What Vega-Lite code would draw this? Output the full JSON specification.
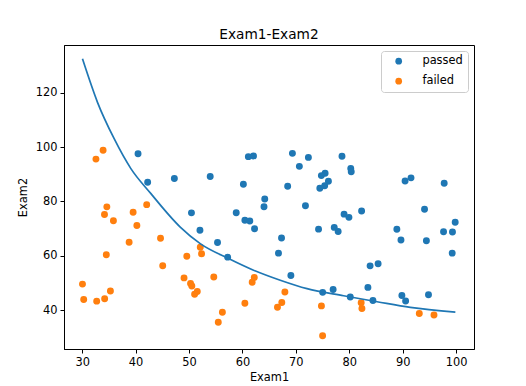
{
  "$schema": "https://vega.github.io/schema/vega-lite/v6.json",
  "width": 410,
  "height": 304,
  "autosize": {"type": "none"},
  "padding": {"left": 64, "top": 45, "right": 52, "bottom": 37},
  "background": "white",
  "title": {"text": "Exam1-Exam2", "font": "DejaVu Sans", "fontSize": 13.7, "fontWeight": "normal", "color": "black", "offset": 3},
  "config": {
    "view": {"stroke": "black", "strokeWidth": 1},
    "axis": {
      "grid": false,
      "domainColor": "black",
      "tickColor": "black",
      "tickSize": 4,
      "labelFont": "DejaVu Sans",
      "labelFontSize": 11.4,
      "labelColor": "black",
      "labelPadding": 3,
      "titleFont": "DejaVu Sans",
      "titleFontSize": 11.4,
      "titleFontWeight": "normal",
      "titleColor": "black"
    },
    "legend": {
      "labelFont": "DejaVu Sans",
      "labelFontSize": 11.4,
      "labelColor": "black"
    }
  },
  "datasets": {
    "pts": [
      {"x1": 34.62, "x2": 78.02, "result": "failed"},
      {"x1": 30.29, "x2": 43.89, "result": "failed"},
      {"x1": 35.85, "x2": 72.90, "result": "failed"},
      {"x1": 60.18, "x2": 86.31, "result": "passed"},
      {"x1": 79.03, "x2": 75.34, "result": "passed"},
      {"x1": 45.08, "x2": 56.32, "result": "failed"},
      {"x1": 61.11, "x2": 96.51, "result": "passed"},
      {"x1": 75.02, "x2": 46.55, "result": "passed"},
      {"x1": 76.10, "x2": 87.42, "result": "passed"},
      {"x1": 84.43, "x2": 43.53, "result": "passed"},
      {"x1": 95.86, "x2": 38.23, "result": "failed"},
      {"x1": 75.01, "x2": 30.60, "result": "failed"},
      {"x1": 82.31, "x2": 76.48, "result": "passed"},
      {"x1": 69.36, "x2": 97.72, "result": "passed"},
      {"x1": 39.54, "x2": 76.04, "result": "failed"},
      {"x1": 53.97, "x2": 89.21, "result": "passed"},
      {"x1": 69.07, "x2": 52.74, "result": "passed"},
      {"x1": 67.95, "x2": 46.68, "result": "failed"},
      {"x1": 70.66, "x2": 92.93, "result": "passed"},
      {"x1": 76.98, "x2": 47.58, "result": "passed"},
      {"x1": 67.37, "x2": 42.84, "result": "failed"},
      {"x1": 89.68, "x2": 65.80, "result": "passed"},
      {"x1": 50.53, "x2": 48.86, "result": "failed"},
      {"x1": 34.21, "x2": 44.21, "result": "failed"},
      {"x1": 77.92, "x2": 68.97, "result": "passed"},
      {"x1": 62.27, "x2": 69.95, "result": "passed"},
      {"x1": 80.19, "x2": 44.82, "result": "passed"},
      {"x1": 93.11, "x2": 38.80, "result": "failed"},
      {"x1": 61.83, "x2": 50.26, "result": "failed"},
      {"x1": 38.79, "x2": 65.00, "result": "failed"},
      {"x1": 61.38, "x2": 72.81, "result": "passed"},
      {"x1": 85.40, "x2": 57.05, "result": "passed"},
      {"x1": 52.11, "x2": 63.13, "result": "failed"},
      {"x1": 52.05, "x2": 69.43, "result": "passed"},
      {"x1": 40.24, "x2": 71.17, "result": "failed"},
      {"x1": 54.64, "x2": 52.21, "result": "failed"},
      {"x1": 33.92, "x2": 98.87, "result": "failed"},
      {"x1": 64.18, "x2": 80.91, "result": "passed"},
      {"x1": 74.79, "x2": 41.57, "result": "failed"},
      {"x1": 34.18, "x2": 75.24, "result": "failed"},
      {"x1": 83.90, "x2": 56.31, "result": "passed"},
      {"x1": 51.55, "x2": 46.86, "result": "failed"},
      {"x1": 94.44, "x2": 65.57, "result": "passed"},
      {"x1": 82.37, "x2": 40.62, "result": "failed"},
      {"x1": 51.05, "x2": 45.82, "result": "failed"},
      {"x1": 62.22, "x2": 52.06, "result": "failed"},
      {"x1": 77.19, "x2": 70.46, "result": "passed"},
      {"x1": 97.77, "x2": 86.73, "result": "passed"},
      {"x1": 62.07, "x2": 96.77, "result": "passed"},
      {"x1": 91.56, "x2": 88.70, "result": "passed"},
      {"x1": 79.94, "x2": 74.16, "result": "passed"},
      {"x1": 99.27, "x2": 61.00, "result": "passed"},
      {"x1": 90.55, "x2": 43.39, "result": "passed"},
      {"x1": 34.52, "x2": 60.40, "result": "failed"},
      {"x1": 50.29, "x2": 49.80, "result": "failed"},
      {"x1": 49.59, "x2": 59.81, "result": "failed"},
      {"x1": 97.65, "x2": 68.86, "result": "passed"},
      {"x1": 32.58, "x2": 95.60, "result": "failed"},
      {"x1": 74.25, "x2": 69.82, "result": "passed"},
      {"x1": 71.80, "x2": 78.45, "result": "passed"},
      {"x1": 75.40, "x2": 85.76, "result": "passed"},
      {"x1": 35.29, "x2": 47.02, "result": "failed"},
      {"x1": 56.25, "x2": 39.26, "result": "failed"},
      {"x1": 30.06, "x2": 49.59, "result": "failed"},
      {"x1": 44.67, "x2": 66.45, "result": "failed"},
      {"x1": 66.56, "x2": 41.09, "result": "failed"},
      {"x1": 40.46, "x2": 97.54, "result": "passed"},
      {"x1": 49.07, "x2": 51.88, "result": "failed"},
      {"x1": 80.28, "x2": 92.12, "result": "passed"},
      {"x1": 66.75, "x2": 60.99, "result": "passed"},
      {"x1": 32.72, "x2": 43.31, "result": "failed"},
      {"x1": 64.04, "x2": 78.03, "result": "passed"},
      {"x1": 72.35, "x2": 96.23, "result": "passed"},
      {"x1": 60.46, "x2": 73.09, "result": "passed"},
      {"x1": 58.84, "x2": 75.86, "result": "passed"},
      {"x1": 99.83, "x2": 72.37, "result": "passed"},
      {"x1": 47.26, "x2": 88.48, "result": "passed"},
      {"x1": 50.46, "x2": 75.81, "result": "passed"},
      {"x1": 60.46, "x2": 42.51, "result": "failed"},
      {"x1": 82.23, "x2": 42.72, "result": "failed"},
      {"x1": 88.91, "x2": 69.80, "result": "passed"},
      {"x1": 94.83, "x2": 45.69, "result": "passed"},
      {"x1": 67.32, "x2": 66.59, "result": "passed"},
      {"x1": 57.24, "x2": 59.51, "result": "passed"},
      {"x1": 80.37, "x2": 90.96, "result": "passed"},
      {"x1": 68.47, "x2": 85.59, "result": "passed"},
      {"x1": 42.08, "x2": 78.84, "result": "failed"},
      {"x1": 75.48, "x2": 90.42, "result": "passed"},
      {"x1": 78.64, "x2": 96.65, "result": "passed"},
      {"x1": 52.35, "x2": 60.77, "result": "failed"},
      {"x1": 94.09, "x2": 77.16, "result": "passed"},
      {"x1": 90.45, "x2": 87.51, "result": "passed"},
      {"x1": 55.48, "x2": 35.57, "result": "failed"},
      {"x1": 74.49, "x2": 84.85, "result": "passed"},
      {"x1": 89.85, "x2": 45.36, "result": "passed"},
      {"x1": 83.49, "x2": 48.38, "result": "passed"},
      {"x1": 42.26, "x2": 87.10, "result": "passed"},
      {"x1": 99.32, "x2": 68.78, "result": "passed"},
      {"x1": 55.34, "x2": 64.93, "result": "passed"},
      {"x1": 74.78, "x2": 89.53, "result": "passed"}
    ],
    "curve": [
      {"x1": 30.06, "x2": 132.5},
      {"x1": 32.87, "x2": 116.5},
      {"x1": 35.99, "x2": 103.1},
      {"x1": 39.12, "x2": 92.1},
      {"x1": 42.87, "x2": 82.9},
      {"x1": 48.36, "x2": 70.6},
      {"x1": 52.10, "x2": 64.5},
      {"x1": 57.40, "x2": 59.0},
      {"x1": 62.08, "x2": 54.7},
      {"x1": 67.08, "x2": 51.0},
      {"x1": 72.09, "x2": 47.9},
      {"x1": 78.94, "x2": 45.3},
      {"x1": 85.20, "x2": 43.1},
      {"x1": 91.43, "x2": 41.0},
      {"x1": 99.86, "x2": 39.3}
    ]
  },
  "layer": [
    {
      "data": {"name": "pts"},
      "mark": {"type": "circle", "opacity": 1, "size": 48},
      "encoding": {
        "x": {"field": "x1", "type": "quantitative", "title": "Exam1",
              "scale": {"domain": [26.6, 103.35], "nice": false, "zero": false},
              "axis": {"values": [30, 40, 50, 60, 70, 80, 90, 100], "titlePadding": 4}},
        "y": {"field": "x2", "type": "quantitative", "title": "Exam2",
              "scale": {"domain": [25.7, 137.6], "nice": false, "zero": false},
              "axis": {"values": [40, 60, 80, 100, 120], "titlePadding": 7}},
        "color": {"field": "result", "type": "nominal",
                  "scale": {"domain": ["passed", "failed"], "range": ["#1f77b4", "#ff7f0e"]},
                  "legend": {"title": null, "orient": "top-right", "offset": 6,
                             "fillColor": "white", "strokeColor": "#cccccc", "cornerRadius": 3,
                             "padding": 4.5, "symbolType": "circle", "symbolSize": 45,
                             "symbolOffset": 7.5, "labelOffset": 18, "rowPadding": 7}}
      }
    },
    {
      "data": {"name": "curve"},
      "mark": {"type": "line", "color": "#1f77b4", "strokeWidth": 1.7, "interpolate": "monotone"},
      "encoding": {
        "x": {"field": "x1", "type": "quantitative"},
        "y": {"field": "x2", "type": "quantitative"}
      }
    }
  ]
}
